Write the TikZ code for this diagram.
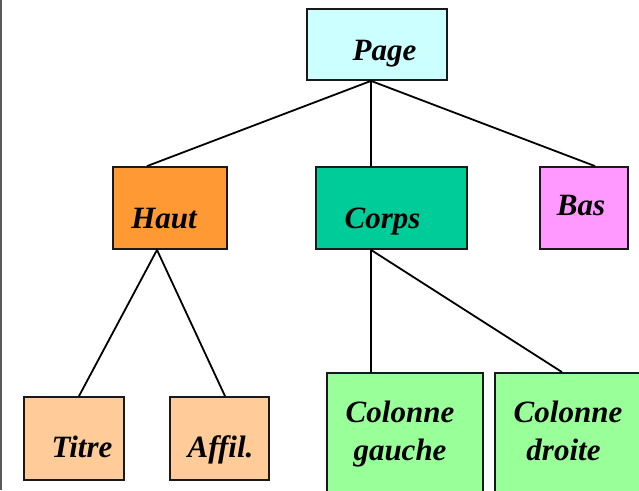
\documentclass[tikz,border=0pt]{standalone}
\usepackage{fontspec}
\setmainfont{LiberationSerif}[Extension=.ttf,UprightFont=*-Regular,BoldFont=*-Bold,ItalicFont=*-Italic,BoldItalicFont=*-BoldItalic]
\begin{document}
\begin{tikzpicture}[x=1pt,y=-1pt,
  box/.style={draw=black!90,line width=1.8pt,minimum width=#1,inner sep=0pt,rectangle},
  lbl/.style={anchor=base,inner sep=0pt,font=\fontsize{31}{38}\selectfont\bfseries\itshape},
  link/.style={draw=black,line width=1.8pt}]
\useasboundingbox (0,0) rectangle (639,490);
\clip (0,0) rectangle (639,490);
% left page rule
\draw[gray!70!black,line width=2pt] (1,0) -- (1,490);
% boxes
\node[box=140pt,minimum height=71pt,fill={rgb,255:red,204;green,255;blue,255}] (page) at (377,44.5) {};
\node[box=114pt,minimum height=82pt,fill={rgb,255:red,255;green,153;blue,51}] (haut) at (170,208) {};
\node[box=151pt,minimum height=82pt,fill={rgb,255:red,0;green,204;blue,153}] (corps) at (391.5,208) {};
\node[box=88pt,minimum height=82pt,fill={rgb,255:red,255;green,153;blue,255}] (bas) at (584,208) {};
\node[box=100pt,minimum height=83pt,fill={rgb,255:red,255;green,204;blue,153}] (titre) at (74,438.5) {};
\node[box=99pt,minimum height=83pt,fill={rgb,255:red,255;green,204;blue,153}] (affil) at (219.5,438.5) {};
\node[box=156pt,minimum height=147pt,fill={rgb,255:red,153;green,255;blue,153}] (cg) at (405,446.5) {};
\node[box=165pt,minimum height=147pt,fill={rgb,255:red,153;green,255;blue,153}] (cd) at (577.5,446.5) {};
% labels
\node[lbl] (tpage) at (384.5,60) {Page};
\node[lbl] (thaut) at (164,228) {Haut};
\node[lbl] (tcorps) at (382.5,228) {Corps};
\node[lbl] (tbas) at (581,215) {Bas};
\node[lbl] (ttitre) at (82,457) {Titre};
\node[lbl] (taffil) at (220.5,457) {Affil.};
\node[lbl] (tcg1) at (400,422) {Colonne};
\node[lbl] (tcg2) at (400,460) {gauche};
\node[lbl] (tcd1) at (568,422) {Colonne};
\node[lbl] (tcd2) at (563.5,460) {droite};
% connectors
\draw[link] ([xshift=-6pt]page.south) -- ([xshift=-23pt]haut.north);
\draw[link] ([xshift=-6pt]page.south) -- ([xshift=-20.5pt]corps.north);
\draw[link] ([xshift=-6pt]page.south) -- ([xshift=11pt]bas.north);
\draw[link] ([xshift=-13pt]haut.south) -- ([xshift=5pt]titre.north);
\draw[link] ([xshift=-13pt]haut.south) -- ([xshift=5.5pt]affil.north);
\draw[link] ([xshift=-20.5pt]corps.south) -- ([xshift=-34pt]cg.north);
\draw[link] ([xshift=-20.5pt]corps.south) -- ([xshift=-15.5pt]cd.north);
\end{tikzpicture}
\end{document}
